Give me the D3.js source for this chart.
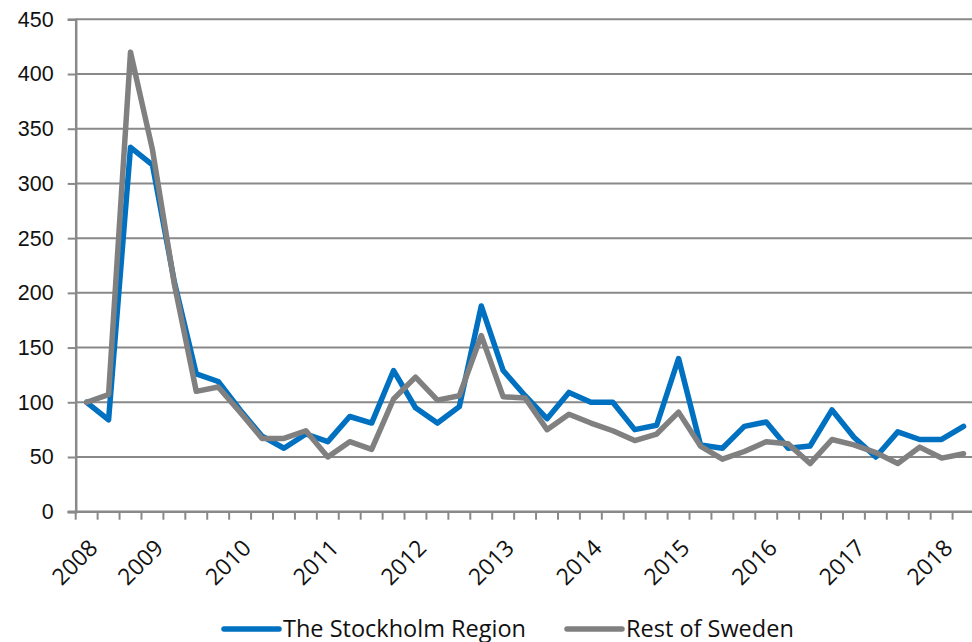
<!DOCTYPE html>
<html>
	<head>
		<meta charset="utf-8">
		<style type="text/css">
			body { margin: 0; background: white; overflow: hidden; }
			svg { display: block; font-family: "Open Sans", Lato, sans-serif; }
			.series { fill: none; stroke-width: 5.5; stroke-linejoin: round; stroke-linecap: round; }
		</style>
		<title>Stockholm vs rest of Sweden</title>
	</head>
	<body>
		<script src="https://cdn.jsdelivr.net/npm/d3@7"></script>
		<script>

// quarterly index, first quarter = 100
var labels = ["2008","","","2009","","","","2010","","","","2011","","","","2012","","","","2013","",
              "","","2014","","","","2015","","","","2016","","","","2017","","","","2018",""];
var stockholm = [100, 84, 333, 317, 210, 126, 119, 93, 69, 58, 71, 64, 87, 81, 129, 95, 81, 96, 188, 129, 106,
                 85, 109, 100, 100, 75, 79, 140, 61, 58, 78, 82, 58, 60, 93, 68, 50, 73, 66, 66, 78];
var restOfSweden = [100, 107, 420, 331, 208, 110, 114, 91, 67, 67, 74, 50, 64, 57, 103, 123, 102, 106, 161, 105, 104,
                    75, 89, 81, 74, 65, 71, 91, 60, 48, 55, 64, 62, 44, 66, 61, 54, 44, 59, 49, 53];
var yTicks = [0, 50, 100, 150, 200, 250, 300, 350, 400, 450];
var seriesNames = ["The Stockholm Region", "Rest of Sweden"];
var seriesColors = ["#0070c0", "#808080"];

var W = 972, H = 642;
var plot = {x0: 75.7, x1: 974.5, y0: 511.7, y1: 19.3};
var gridColor = "#898989";

var svg = d3.select('body').append('svg')
	.attr('width', W)
	.attr('height', H);

var idx = d3.range(labels.length);
var x = d3.scaleBand()
	.domain(idx)
	.range([plot.x0, plot.x1]);

var y = d3.scaleLinear()
	.domain([0, 450])
	.range([plot.y0, plot.y1]);

// gridlines
svg.append('g').selectAll('line')
	.data(yTicks.filter(d => d > 0))
	.join('line')
	.attr('x1', plot.x0).attr('x2', plot.x1)
	.attr('y1', d => y(d)).attr('y2', d => y(d))
	.attr('stroke', gridColor)
	.attr('stroke-width', 2);

// y axis
var yAxis = svg.append('g')
	.attr('transform', `translate(${plot.x0},0)`)
	.call(d3.axisLeft(y).tickValues(yTicks).tickSize(8).tickPadding(14));
yAxis.select('.domain').attr('stroke', gridColor).attr('stroke-width', 2.5);
yAxis.selectAll('.tick line').attr('stroke', gridColor).attr('stroke-width', 2);
yAxis.selectAll('.tick text')
	.attr('fill', '#111')
	.style('font-size', '21.5px');

// x axis: ticks sit between categories
var xg = svg.append('g');
xg.append('line')
	.attr('x1', plot.x0 - 8).attr('x2', plot.x1)
	.attr('y1', plot.y0).attr('y2', plot.y0)
	.attr('stroke', gridColor).attr('stroke-width', 2.5);
xg.selectAll('line.tk')
	.data(d3.range(labels.length + 1))
	.join('line')
	.attr('class', 'tk')
	.attr('x1', i => plot.x0 + i * x.step()).attr('x2', i => plot.x0 + i * x.step())
	.attr('y1', plot.y0).attr('y2', plot.y0 + 8)
	.attr('stroke', gridColor).attr('stroke-width', 2);
xg.selectAll('text')
	.data(idx.filter(i => labels[i] !== ""))
	.join('text')
	.text(i => labels[i])
	.attr('transform', i => `translate(${x(i) + x.bandwidth() / 2 + 1},538) rotate(-45)`)
	.attr('dy', '0.7em')
	.attr('text-anchor', 'end')
	.attr('fill', '#111')
	.style('font-size', '23px');

// lines
var line = d3.line()
	.x((d, i) => x(i) + x.bandwidth() / 2)
	.y(d => y(d));

[stockholm, restOfSweden].forEach(function(s, k) {
	svg.append('path').datum(s)
		.attr('class', 'series')
		.attr('stroke', seriesColors[k])
		.attr('d', line);
});

// legend
var legendX = [224, 567];
seriesNames.forEach(function(name, k) {
	var g = svg.append('g').attr('transform', `translate(${legendX[k]},629)`);
	g.append('line')
		.attr('x1', 0).attr('x2', 55)
		.attr('stroke', seriesColors[k])
		.attr('stroke-width', 5.5)
		.attr('stroke-linecap', 'round');
	g.append('text')
		.text(name)
		.attr('x', 59)
		.attr('dy', '0.35em')
		.attr('fill', '#111')
		.style('font-size', '23.5px');
});

		</script>
	</body>
</html>
